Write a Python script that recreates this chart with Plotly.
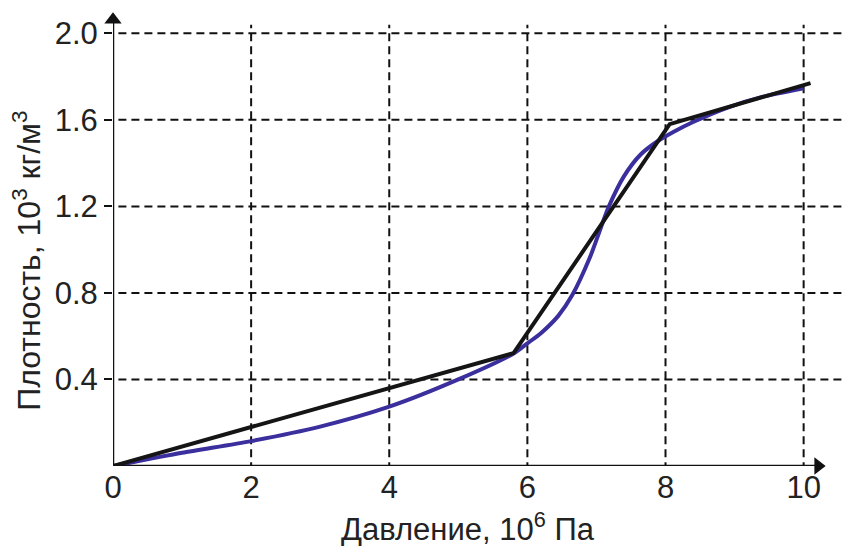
import plotly.graph_objects as go

# Data
black_x = [0, 5.8, 8.06, 10.1]
black_y = [0, 0.522, 1.58, 1.77]

blue_x = [0, 1, 2, 3, 4, 5, 5.8, 6.0, 6.2, 6.45, 6.65, 6.9, 7.18, 7.4, 7.64, 7.88, 8.12, 8.4, 8.9, 9.4, 10]
blue_y = [0, 0.061, 0.115, 0.182, 0.274, 0.40, 0.52, 0.567, 0.615, 0.695, 0.79, 0.96, 1.2, 1.34, 1.44, 1.50, 1.545, 1.59, 1.657, 1.706, 1.746]

x_ticks = [0, 2, 4, 6, 8, 10]
y_ticks = [0.4, 0.8, 1.2, 1.6, 2.0]
y_tick_labels = ["0.4", "0.8", "1.2", "1.6", "2.0"]

x_title = "Давление, 10<sup>6</sup> Па"
y_title = "Плотность, 10<sup>3</sup> кг/м<sup>3</sup>"

FONT = "Liberation Sans"
X_MAX = 10.57
Y_MAX = 2.154

fig = go.Figure()

shapes = []
# grid (dashed)
for xv in x_ticks[1:]:
    shapes.append(dict(type="line", xref="x", yref="y", x0=xv, x1=xv, y0=-0.02, y1=2.04,
                       line=dict(color="#111", width=2, dash="8px,5px"), layer="below"))
for yv in y_ticks:
    shapes.append(dict(type="line", xref="x", yref="y", x0=-0.11, x1=X_MAX, y0=yv, y1=yv,
                       line=dict(color="#111", width=2, dash="8px,5px"), layer="below"))
for xv in x_ticks:
    shapes.append(dict(type="line", xref="x", yref="y", x0=xv, x1=xv, y0=0, y1=-0.025,
                       line=dict(color="#111", width=1.5), layer="below"))
# axes lines
shapes.append(dict(type="line", xref="x", yref="y", x0=0, x1=10.2, y0=0, y1=0,
                   line=dict(color="#111", width=2.5)))
shapes.append(dict(type="line", xref="x", yref="y", x0=0, x1=0, y0=0, y1=2.05,
                   line=dict(color="#111", width=2.5)))

fig.add_trace(go.Scatter(x=blue_x, y=blue_y, mode="lines",
                         line=dict(color="#3a2f9c", width=4, shape="spline", smoothing=0.7),
                         hoverinfo="skip", showlegend=False))
fig.add_trace(go.Scatter(x=black_x, y=black_y, mode="lines",
                         line=dict(color="#151515", width=4),
                         hoverinfo="skip", showlegend=False))
# arrow heads at the axis ends
fig.add_trace(go.Scatter(x=[10.21], y=[0], mode="markers", cliponaxis=False,
                         marker=dict(symbol="triangle-right", size=15, color="#111"),
                         hoverinfo="skip", showlegend=False))
fig.add_trace(go.Scatter(x=[0], y=[2.063], mode="markers", cliponaxis=False,
                         marker=dict(symbol="triangle-up", size=15, color="#111"),
                         hoverinfo="skip", showlegend=False))

annotations = [
    dict(x=0.486, y=-0.131, xref="paper", yref="paper", text=x_title, showarrow=False,
         font=dict(family=FONT, size=31, color="#222"), xanchor="center", yanchor="middle"),
    dict(x=-0.118, y=0.44, xref="paper", yref="paper", text=y_title, showarrow=False,
         textangle=-90, font=dict(family=FONT, size=32, color="#222"),
         xanchor="center", yanchor="middle"),
]

fig.update_layout(
    width=843, height=546,
    margin=dict(l=113, r=0, t=0, b=80),
    paper_bgcolor="white", plot_bgcolor="white",
    shapes=shapes, annotations=annotations,
    xaxis=dict(range=[0, X_MAX], tickvals=x_ticks, ticktext=[str(v) for v in x_ticks],
               showgrid=False, zeroline=False, showline=False, ticks="",
               tickfont=dict(family=FONT, size=31, color="#222"), fixedrange=True),
    yaxis=dict(range=[0, Y_MAX], tickvals=y_ticks, ticktext=y_tick_labels,
               showgrid=False, zeroline=False, showline=False,
               ticks="outside", ticklen=8, tickwidth=1.5, tickcolor="#111",
               tickfont=dict(family=FONT, size=31, color="#222"), fixedrange=True),
)

fig.write_html("out.html")
